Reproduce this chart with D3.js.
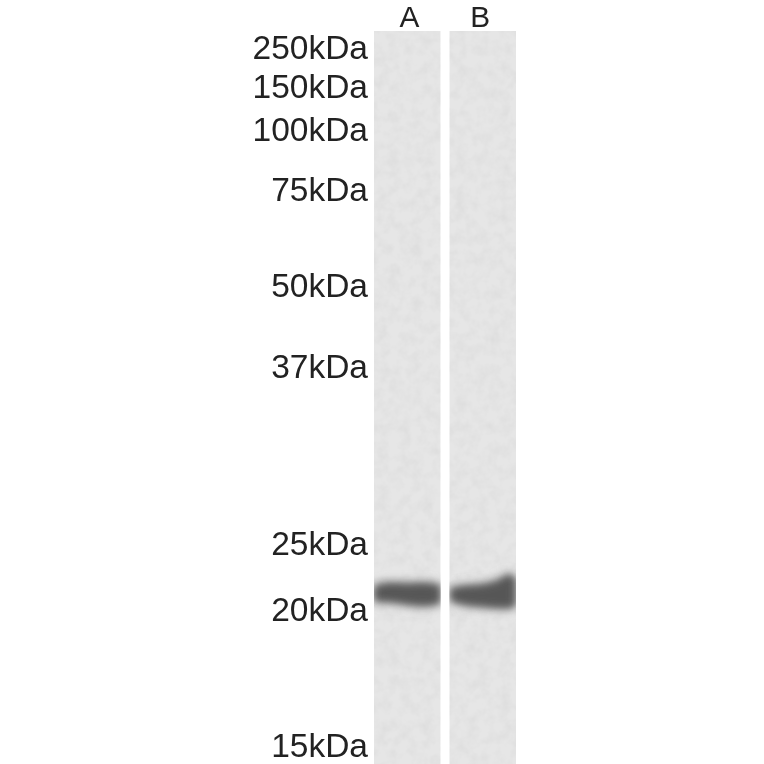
<!DOCTYPE html>
<html>
<head>
<meta charset="utf-8">
<script src="https://cdn.jsdelivr.net/npm/d3@7"></script>
<style>
  html, body { margin: 0; padding: 0; background: #fff; }
  svg { display: block; }
  text { font-family: "Liberation Sans", Arial, sans-serif; fill: #222; }
</style>
</head>
<body>
<svg id="blot" width="764" height="764"></svg>
<script>
// marker ladder, migration is a fraction of the lane length
var markers = ["250kDa", "150kDa", "100kDa", "75kDa", "50kDa", "37kDa", "25kDa", "20kDa", "15kDa"];
var markerMigration = [0.022, 0.076, 0.134, 0.217, 0.348, 0.458, 0.699, 0.790, 0.975];

var lanes = ["A", "B"];

// band outline, read across each lane (0 = left edge, 1 = right edge)
var acrossA = [0.03, 0.25, 0.5, 0.75, 0.97];
var topA = [0.759, 0.755, 0.756, 0.755, 0.758];
var bottomA = [0.776, 0.777, 0.780, 0.782, 0.779];

var acrossB = [0.04, 0.25, 0.5, 0.75, 0.9, 0.97];
var topB = [0.762, 0.759, 0.757, 0.751, 0.744, 0.749];
var bottomB = [0.776, 0.781, 0.783, 0.785, 0.785, 0.781];

var bands = {
  A: d3.zip(acrossA, topA, bottomA),
  B: d3.zip(acrossB, topB, bottomB)
};

var svg = d3.select("#blot");

var x = d3.scaleBand().domain(lanes).range([374, 516]).paddingInner(0.115);
var y = d3.scaleLinear().domain([0, 1]).range([31, 764]);

var defs = svg.append("defs");

function blur(id, sd) {
  defs.append("filter").attr("id", id)
    .attr("x", "-20%").attr("y", "-80%").attr("width", "140%").attr("height", "260%")
    .append("feGaussianBlur").attr("stdDeviation", sd);
}
blur("soft", 5);
blur("core", 3.5);

var textBlur = defs.append("filter").attr("id", "textBlur");
textBlur.append("feGaussianBlur").attr("stdDeviation", 0.6);

// film grain on the lanes
var grain = defs.append("filter").attr("id", "grain")
  .attr("x", 0).attr("y", 0).attr("width", "100%").attr("height", "100%");
grain.append("feTurbulence").attr("type", "fractalNoise")
  .attr("baseFrequency", 0.09).attr("numOctaves", 3).attr("seed", 4);
grain.append("feColorMatrix").attr("type", "matrix")
  .attr("values", "0 0 0 0 0.45  0 0 0 0 0.45  0 0 0 0 0.45  0.3 0 0 0 -0.11");

lanes.forEach(function(l) {
  defs.append("clipPath").attr("id", "clip" + l)
    .append("rect")
    .attr("x", x(l)).attr("y", y(0))
    .attr("width", x.bandwidth()).attr("height", y(1) - y(0));
});

var lane = svg.selectAll(".lane")
  .data(lanes)
  .enter()
  .append("g")
  .attr("class", "lane")
  .attr("clip-path", function(d) { return "url(#clip" + d + ")"; });

lane.append("rect")
  .attr("x", function(d) { return x(d); })
  .attr("y", y(0))
  .attr("width", x.bandwidth())
  .attr("height", y(1) - y(0))
  .attr("fill", "#e6e6e6");

lane.append("rect")
  .attr("x", function(d) { return x(d); })
  .attr("y", y(0))
  .attr("width", x.bandwidth())
  .attr("height", y(1) - y(0))
  .attr("fill", "#fff")
  .attr("filter", "url(#grain)");

function bandArea(l) {
  var bx = d3.scaleLinear().domain([0, 1]).range([x(l), x(l) + x.bandwidth()]);
  return d3.area()
    .x(function(d) { return bx(d[0]); })
    .y0(function(d) { return y(d[1]); })
    .y1(function(d) { return y(d[2]); })
    .curve(d3.curveMonotoneX);
}

lane.append("path")
  .attr("d", function(d) { return bandArea(d)(bands[d]); })
  .attr("fill", "#8c8c8c")
  .attr("stroke", "#8c8c8c")
  .attr("stroke-width", 7)
  .attr("filter", "url(#soft)");

lane.append("path")
  .attr("d", function(d) { return bandArea(d)(bands[d]); })
  .attr("fill", "#565656")
  .attr("filter", "url(#core)");

var labels = svg.append("g").attr("filter", "url(#textBlur)");

labels.selectAll(".marker")
  .data(markers)
  .enter()
  .append("text")
  .attr("class", "marker")
  .attr("x", 368)
  .attr("y", function(d, i) { return y(markerMigration[i]); })
  .attr("dy", "0.34em")
  .attr("text-anchor", "end")
  .attr("font-size", 33.5)
  .text(function(d) { return d; });

labels.selectAll(".laneLabel")
  .data(lanes)
  .enter()
  .append("text")
  .attr("class", "laneLabel")
  .attr("x", function(d) { return x(d) + x.bandwidth() / 2 + (d === "A" ? 2 : -2.5); })
  .attr("y", 27)
  .attr("text-anchor", "middle")
  .attr("font-size", 29.8)
  .text(function(d) { return d; });
</script>
</body>
</html>
